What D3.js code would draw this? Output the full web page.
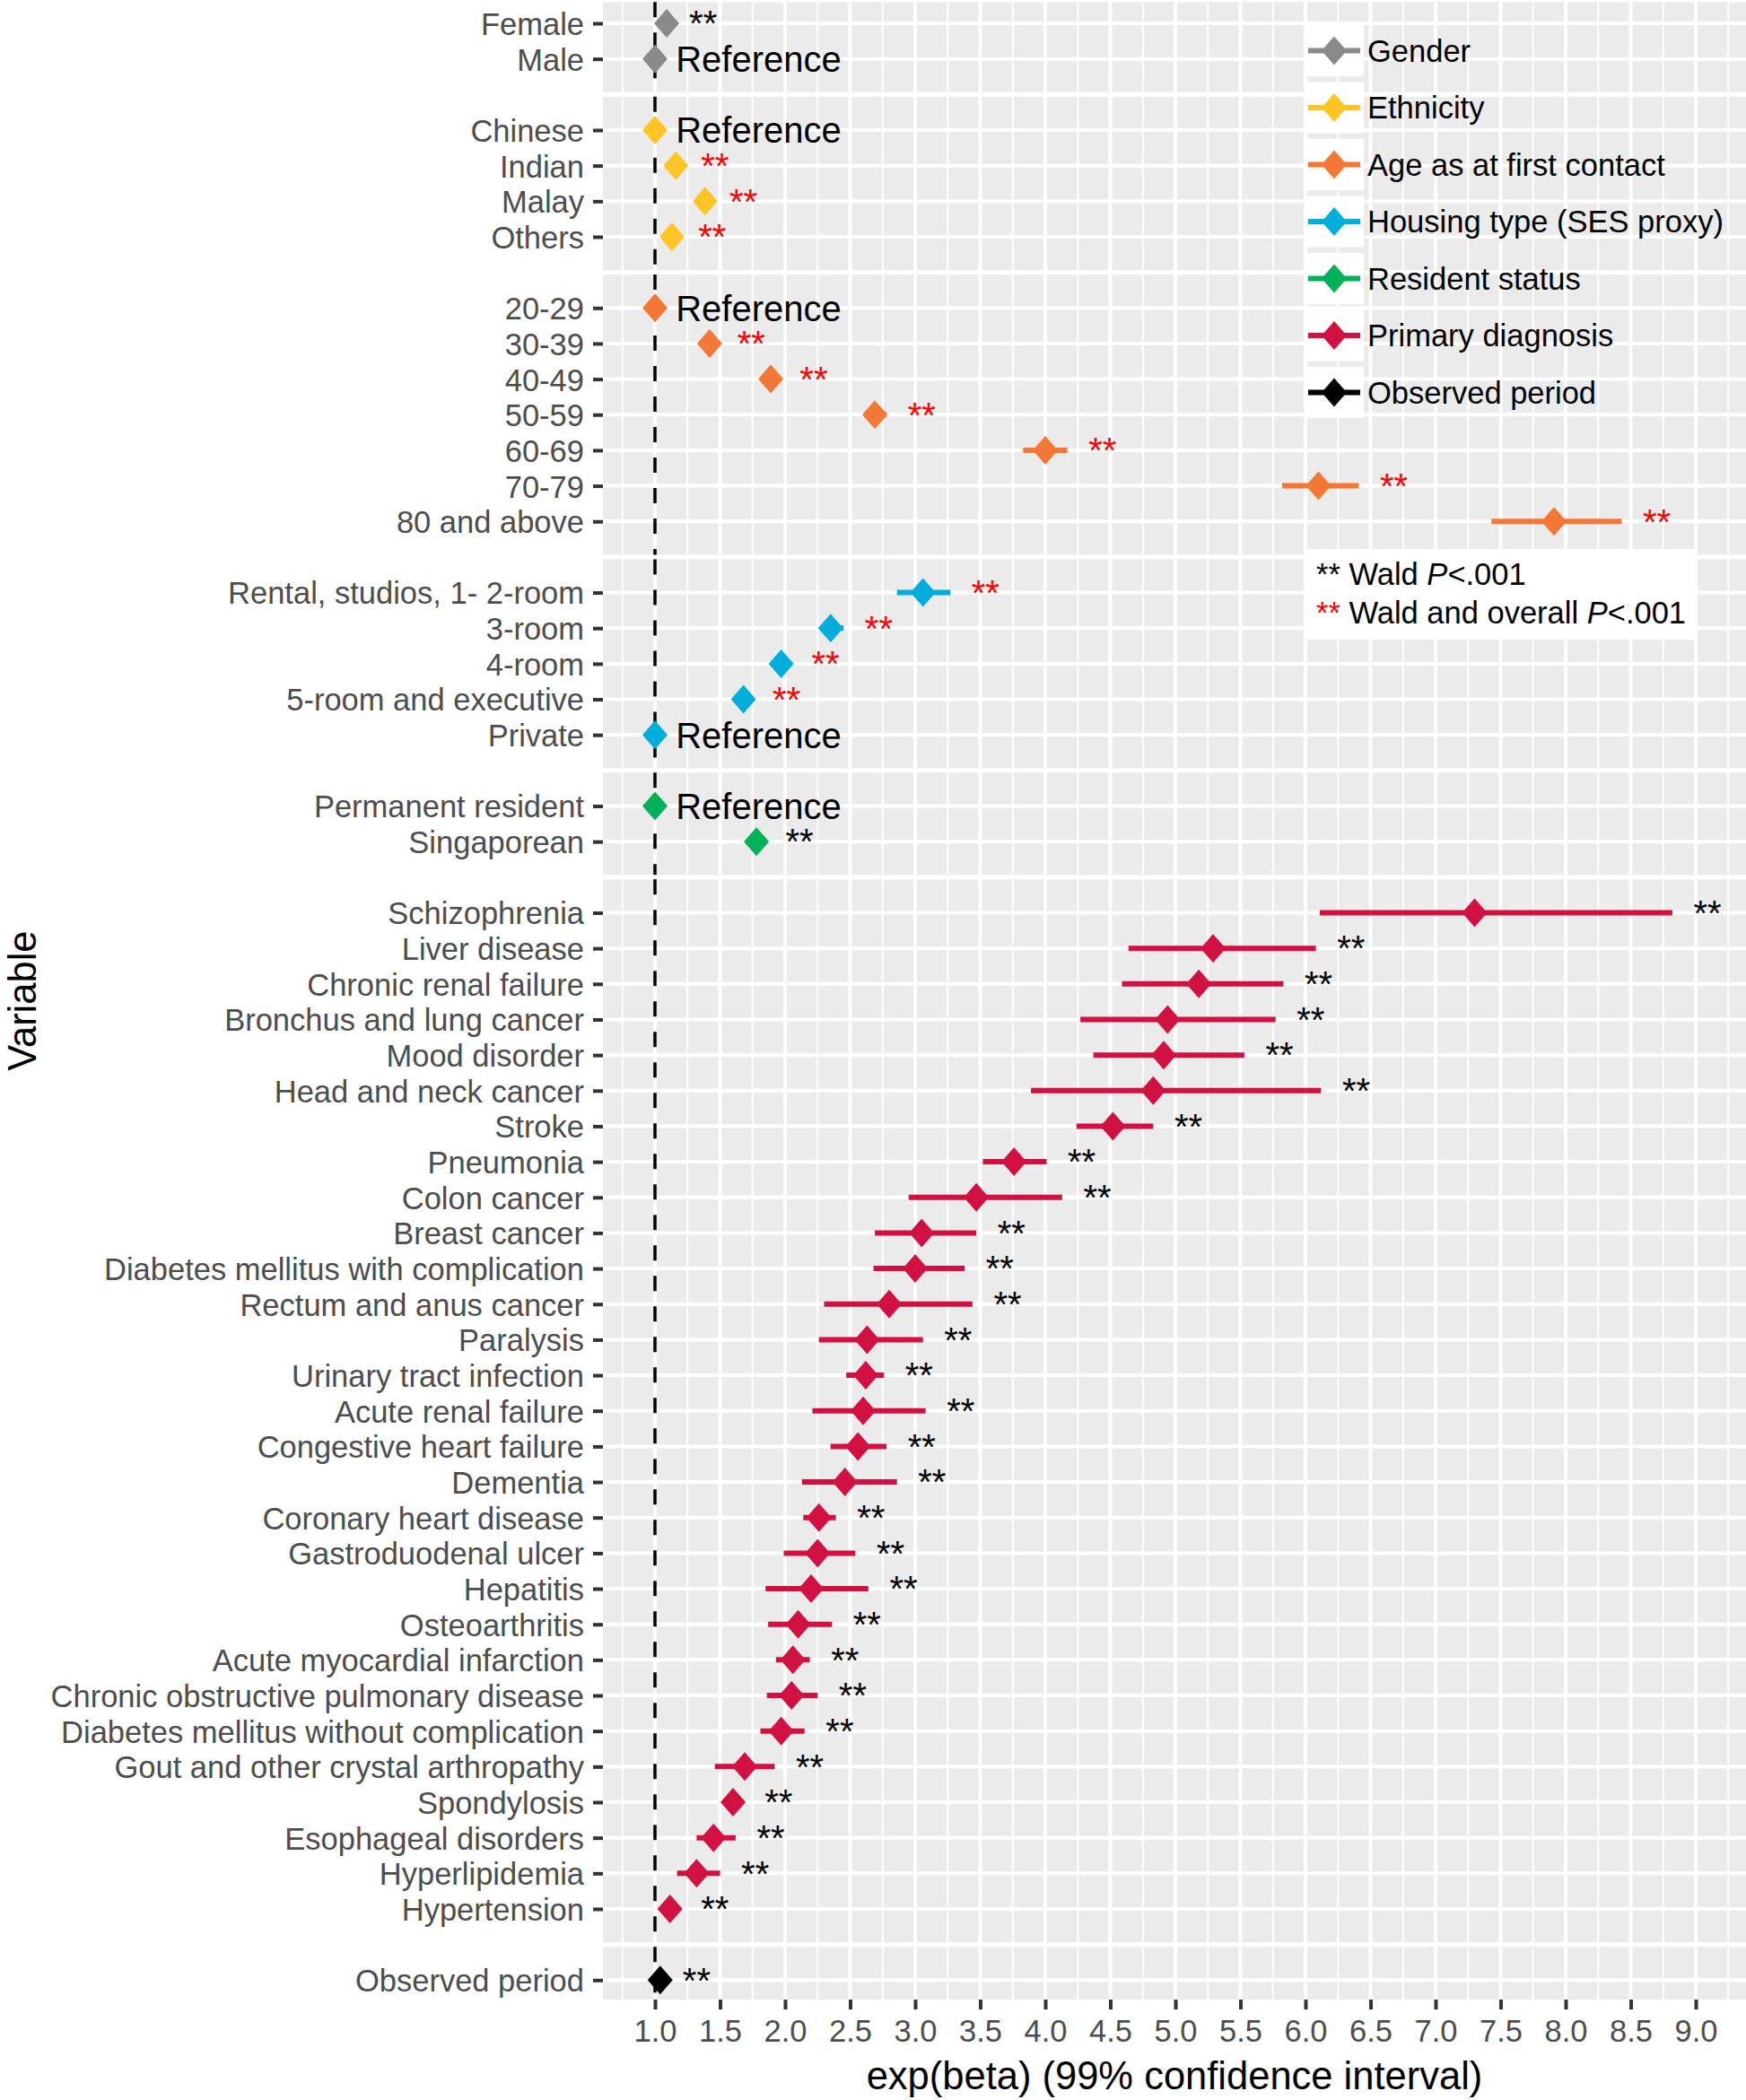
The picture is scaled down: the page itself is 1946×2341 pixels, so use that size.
<!DOCTYPE html>
<html>
<head>
<meta charset="utf-8">
<script src="https://cdn.jsdelivr.net/npm/d3@7"></script>
<style>
  body { margin: 0; background: #fff; }
  svg { display: block; font-family: "Liberation Sans", Arial, sans-serif; }
</style>
</head>
<body>
<svg id="chart" width="1946" height="2341"></svg>
<script>
// groups (legend order)
const groups = ["Gender", "Ethnicity", "Age as at first contact", "Housing type (SES proxy)",
  "Resident status", "Primary diagnosis", "Observed period"];

// one entry per row, top to bottom
const variables = ["Female", "Male",
  "Chinese", "Indian", "Malay", "Others",
  "20-29", "30-39", "40-49", "50-59", "60-69", "70-79", "80 and above",
  "Rental, studios, 1- 2-room", "3-room", "4-room", "5-room and executive", "Private",
  "Permanent resident", "Singaporean",
  "Schizophrenia", "Liver disease", "Chronic renal failure", "Bronchus and lung cancer",
  "Mood disorder", "Head and neck cancer", "Stroke", "Pneumonia", "Colon cancer",
  "Breast cancer", "Diabetes mellitus with complication", "Rectum and anus cancer",
  "Paralysis", "Urinary tract infection", "Acute renal failure", "Congestive heart failure",
  "Dementia", "Coronary heart disease", "Gastroduodenal ulcer", "Hepatitis", "Osteoarthritis",
  "Acute myocardial infarction", "Chronic obstructive pulmonary disease",
  "Diabetes mellitus without complication", "Gout and other crystal arthropathy",
  "Spondylosis", "Esophageal disorders", "Hyperlipidemia", "Hypertension",
  "Observed period"];

const groupOf = [0, 0, 1, 1, 1, 1, 2, 2, 2, 2, 2, 2, 2, 3, 3, 3, 3, 3, 4, 4,
  5, 5, 5, 5, 5, 5, 5, 5, 5, 5, 5, 5, 5, 5, 5, 5, 5, 5, 5, 5, 5, 5, 5, 5, 5, 5, 5, 5, 5,
  6];

const estimate = [1.09, 1.00,
  1.00, 1.16, 1.385, 1.13,
  1.00, 1.42, 1.89, 2.69, 4.00, 6.10, 7.91,
  3.06, 2.35, 1.97, 1.68, 1.00,
  1.00, 1.78,
  7.30, 5.29, 5.18, 4.94, 4.91, 4.83, 4.52, 3.76, 3.47, 3.05, 3.00, 2.80,
  2.63, 2.62, 2.60, 2.56, 2.46, 2.26, 2.25, 2.20, 2.10, 2.06, 2.05, 1.97,
  1.69, 1.60, 1.45, 1.32, 1.115,
  1.04];

const lower = [1.08, 1.00,
  1.00, 1.13, 1.36, 1.10,
  1.00, 1.37, 1.83, 2.61, 3.83, 5.82, 7.43,
  2.86, 2.27, 1.90, 1.62, 1.00,
  1.00, 1.72,
  6.11, 4.64, 4.59, 4.27, 4.37, 3.89, 4.24, 3.52, 2.95, 2.69, 2.68, 2.30,
  2.26, 2.47, 2.21, 2.35, 2.13, 2.14, 1.99, 1.85, 1.87, 1.93, 1.86, 1.81,
  1.46, 1.53, 1.32, 1.17, 1.05,
  1.03];

const upper = [1.10, 1.00,
  1.00, 1.19, 1.41, 1.17,
  1.00, 1.47, 1.95, 2.78, 4.17, 6.41, 8.43,
  3.27, 2.45, 2.04, 1.74, 1.00,
  1.00, 1.84,
  8.82, 6.08, 5.83, 5.77, 5.53, 6.12, 4.83, 4.01, 4.13, 3.47, 3.38, 3.44,
  3.06, 2.76, 3.08, 2.78, 2.86, 2.39, 2.54, 2.64, 2.36, 2.19, 2.25, 2.15,
  1.92, 1.68, 1.62, 1.50, 1.19,
  1.05];

// 0 = reference level, 1 = Wald P<.001, 2 = Wald and overall P<.001
const signif = [1, 0,
  0, 2, 2, 2,
  0, 2, 2, 2, 2, 2, 2,
  2, 2, 2, 2, 0,
  0, 1,
  1, 1, 1, 1, 1, 1, 1, 1, 1, 1, 1, 1, 1, 1, 1, 1, 1, 1, 1, 1, 1, 1, 1, 1, 1, 1, 1, 1, 1,
  1];

const xTicks = [1.0, 1.5, 2.0, 2.5, 3.0, 3.5, 4.0, 4.5, 5.0, 5.5, 6.0, 6.5, 7.0, 7.5, 8.0, 8.5, 9.0];

const rows = variables.map((v, i) => ({
  name: v, group: groupOf[i], est: estimate[i], lo: lower[i], hi: upper[i], sig: signif[i]
}));

// one blank slot between groups
const slots = [];
rows.forEach((r, i) => {
  if (i > 0 && r.group !== rows[i - 1].group) slots.push("__gap" + r.group);
  slots.push(r.name);
});

const svg = d3.select("#chart");
const width = +svg.attr("width");
const height = +svg.attr("height");
const rowStep = 39.66;
const panelLeft = 672;

const x = d3.scaleLinear().domain([0.6, 9.4]).range([panelLeft, 1948]);
const y = d3.scalePoint().domain(slots).range([26, 26 + (slots.length - 1) * rowStep]);

const color = d3.scaleOrdinal()
  .domain(groups)
  .range(["#8a8a8a", "#ffc425", "#f37735", "#00aedb", "#00b159", "#d11141", "#000000"]);

// panel extents, one per group
const panels = groups.map((g, gi) => {
  const rs = rows.filter((r) => r.group === gi);
  const top = gi === 0 ? y(rs[0].name) - 0.6 * rowStep : y(rs[0].name) - rowStep + 2.5;
  const bottom = gi === groups.length - 1
    ? y(rs[rs.length - 1].name) + 0.55 * rowStep
    : y(rs[rs.length - 1].name) + rowStep - 2.5;
  return { top, bottom };
});
const plotBottom = panels[panels.length - 1].bottom;

const defs = svg.append("defs");
defs.append("clipPath").attr("id", "clip")
  .append("rect").attr("x", panelLeft).attr("y", 0).attr("width", width - panelLeft).attr("height", height);

const panelG = svg.append("g").attr("clip-path", "url(#clip)");

const minor = d3.range(0.75, 9.4, 0.5);

panels.forEach((p) => {
  const g = panelG.append("g");
  g.append("rect")
    .attr("x", panelLeft).attr("y", p.top)
    .attr("width", width - panelLeft).attr("height", p.bottom - p.top)
    .attr("fill", "#ebebeb");
  g.selectAll(".minor").data(minor).enter().append("line")
    .attr("x1", (d) => x(d)).attr("x2", (d) => x(d))
    .attr("y1", p.top).attr("y2", p.bottom)
    .attr("stroke", "#fff").attr("stroke-width", 2);
  g.selectAll(".major").data(xTicks).enter().append("line")
    .attr("x1", (d) => x(d)).attr("x2", (d) => x(d))
    .attr("y1", p.top).attr("y2", p.bottom)
    .attr("stroke", "#fff").attr("stroke-width", 4);
});

// horizontal grid lines at each row
panelG.append("g").selectAll("line").data(rows).enter().append("line")
  .attr("x1", panelLeft).attr("x2", width)
  .attr("y1", (d) => y(d.name)).attr("y2", (d) => y(d.name))
  .attr("stroke", "#fff").attr("stroke-width", 4);

// dashed reference line in each panel
panels.forEach((p) => {
  panelG.append("line")
    .attr("x1", x(1)).attr("x2", x(1))
    .attr("y1", p.top).attr("y2", p.bottom)
    .attr("stroke", "#000").attr("stroke-width", 3.5)
    .attr("stroke-dasharray", "17,17");
});

const diamond = "M0,-16L14,0L0,16L-14,0Z";

// confidence intervals
panelG.append("g").selectAll("line").data(rows).enter().append("line")
  .attr("x1", (d) => x(d.lo)).attr("x2", (d) => x(d.hi))
  .attr("y1", (d) => y(d.name)).attr("y2", (d) => y(d.name))
  .attr("stroke", (d) => color(groups[d.group])).attr("stroke-width", 6);

// points
panelG.append("g").selectAll("path").data(rows).enter().append("path")
  .attr("d", diamond)
  .attr("transform", (d) => `translate(${x(d.est)},${y(d.name)})`)
  .attr("fill", (d) => color(groups[d.group]));

// significance stars and reference labels
panelG.append("g").selectAll("text").data(rows.filter((d) => d.sig > 0)).enter().append("text")
  .attr("x", (d) => x(d.hi + 0.27))
  .attr("y", (d) => y(d.name) + 14.3)
  .attr("text-anchor", "middle")
  .attr("font-size", 40)
  .attr("fill", (d) => (d.sig === 2 ? "#ff0000" : "#000"))
  .text("**");

panelG.append("g").selectAll("text").data(rows.filter((d) => d.sig === 0)).enter().append("text")
  .attr("x", (d) => x(d.est + 0.16))
  .attr("y", (d) => y(d.name) + 14.3)
  .attr("font-size", 40)
  .attr("fill", "#000")
  .text("Reference");

// axes
const yAxis = svg.append("g")
  .attr("transform", `translate(${panelLeft},0)`)
  .call(d3.axisLeft(y).tickValues(variables).tickSize(11).tickPadding(10));
yAxis.select(".domain").remove();
yAxis.selectAll(".tick line").attr("stroke", "#333").attr("stroke-width", 4);
yAxis.selectAll(".tick text")
  .attr("font-size", 34.5).attr("fill", "#4d4d4d").attr("dy", "0.36em")
  .attr("font-family", "Liberation Sans, Arial, sans-serif");

const xAxis = svg.append("g")
  .attr("transform", `translate(0,${plotBottom})`)
  .call(d3.axisBottom(x).tickValues(xTicks).tickFormat(d3.format(".1f")).tickSize(11).tickPadding(11));
xAxis.select(".domain").remove();
xAxis.selectAll(".tick line").attr("stroke", "#333").attr("stroke-width", 4);
xAxis.selectAll(".tick text")
  .attr("font-size", 34.5).attr("fill", "#4d4d4d")
  .attr("font-family", "Liberation Sans, Arial, sans-serif");

svg.append("text")
  .attr("x", (panelLeft + width) / 2).attr("y", 2329)
  .attr("text-anchor", "middle").attr("font-size", 43.5).attr("fill", "#000")
  .text("exp(beta) (99% confidence interval)");

svg.append("text")
  .attr("transform", `translate(40,${(panels[0].top + plotBottom) / 2}) rotate(-90)`)
  .attr("text-anchor", "middle").attr("font-size", 43.5).attr("fill", "#000")
  .text("Variable");

// colour legend
const legend = svg.append("g").attr("transform", "translate(1454,28)");
const keyStep = 63.5;
const key = legend.selectAll("g").data(groups).enter().append("g")
  .attr("transform", (d, i) => `translate(0,${i * keyStep})`);
key.append("rect").attr("width", 66).attr("height", 57).attr("fill", "#fff");
key.append("line")
  .attr("x1", 4).attr("x2", 62).attr("y1", 28.5).attr("y2", 28.5)
  .attr("stroke", (d) => color(d)).attr("stroke-width", 6);
key.append("path").attr("d", diamond)
  .attr("transform", "translate(33,28.5)")
  .attr("fill", (d) => color(d));
key.append("text")
  .attr("x", 70).attr("y", 28.5 + 12.4)
  .attr("font-size", 34.5).attr("fill", "#000")
  .text((d) => d);

// significance note
const note = svg.append("g").attr("transform", "translate(1456,612)");
note.append("rect").attr("width", 436).attr("height", 101).attr("fill", "#fff");
const noteLines = [
  { star: "#000", text: " Wald ", dy: 40 },
  { star: "#ff0000", text: " Wald and overall ", dy: 83 }
];
noteLines.forEach((l) => {
  const t = note.append("text").attr("x", 11).attr("y", l.dy).attr("font-size", 34.5).attr("fill", "#000");
  t.append("tspan").attr("fill", l.star).text("**");
  t.append("tspan").text(l.text);
  t.append("tspan").attr("font-style", "italic").text("P");
  t.append("tspan").text("<.001");
});
</script>
</body>
</html>
